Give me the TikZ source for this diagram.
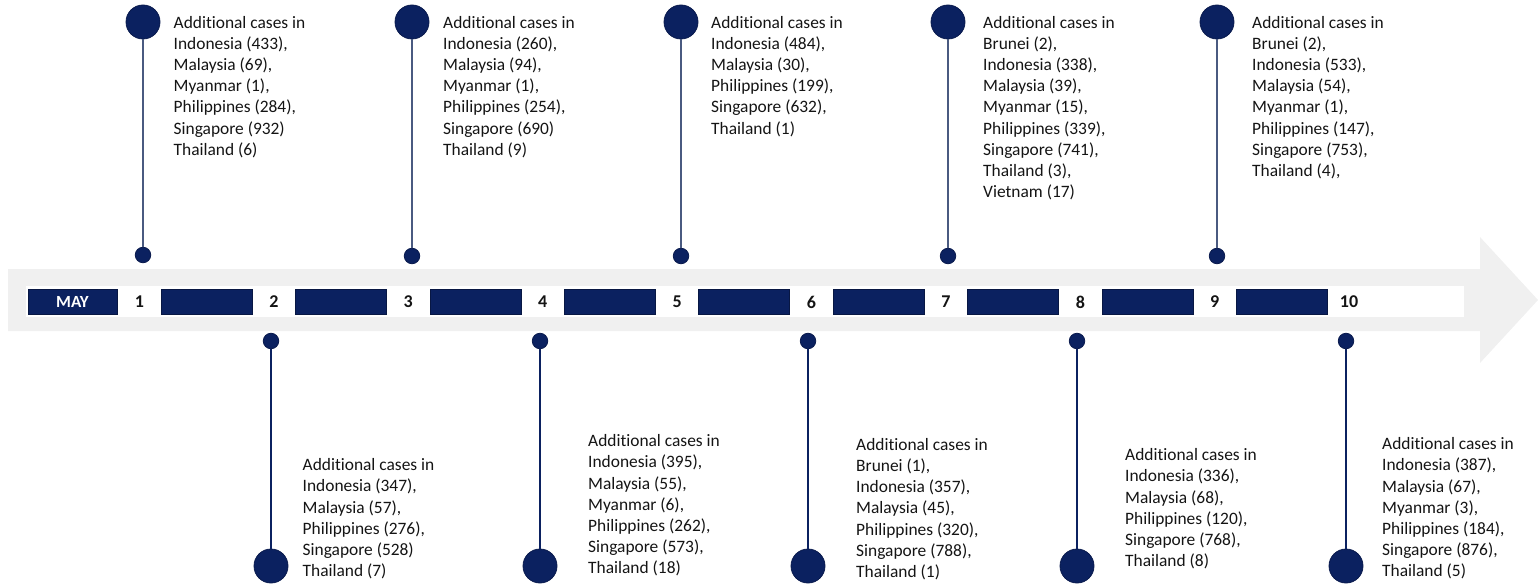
\documentclass[tikz,border=0pt]{standalone}
\usepackage{fontspec}
\setmainfont{Carlito}[Ligatures={NoCommon}]
\definecolor{navy}{HTML}{0B2160}
\definecolor{navyline}{HTML}{4A5A80}
\definecolor{bandgray}{HTML}{F0F0F0}
\definecolor{txt}{HTML}{141414}
\tikzset{
  bigdot/.style={circle,fill=navy,draw=navy!80!black,line width=0.8pt,minimum size=34pt,inner sep=0pt},
  smalldot/.style={circle,fill=navy,draw=navy!80!black,line width=0.8pt,minimum size=15.5pt,inner sep=0pt},
  pinline/.style={draw=navyline,line width=1.8pt},
  pinlinedown/.style={draw=navy,line width=1.8pt},
  info/.style={anchor=north west,inner sep=0pt,align=left,text=txt,font=\fontsize{17.4}{21.2}\selectfont},
  barbox/.style={fill=navy,draw=navy!70!black,line width=0.6pt,minimum width=91pt,minimum height=25pt,inner sep=0pt},
  daynum/.style={inner sep=0pt,text=txt,font=\fontsize{18}{20}\selectfont\bfseries},
}
\newcommand{\fl}{\rule{0pt}{15pt}}
\begin{document}
\begin{tikzpicture}[x=1pt,y=-1pt]
\useasboundingbox (0,0) rectangle (1538,585);
% band arrow
\fill[bandgray] (8,269) -- (1480,269) -- (1480,237) -- (1538,300) -- (1480,363) -- (1480,331) -- (8,331) -- cycle;
% white strip
\fill[white] (26,286) rectangle (1464,317);
% MAY box
\node[barbox,minimum width=89pt,text=white,font=\fontsize{17}{20}\selectfont\bfseries] (may) at (72.5,301.5) {MAY};
% bars
\foreach \i in {1,...,9} {
  \node[barbox] (bar\i) at ({206.5+134.4*(\i-1)},301.5) {};
}
% day numbers
\foreach \k in {1,...,10} {
  \node[daynum] (d\k) at ({139.5+134.4*(\k-1)},302) {\k};
}
% top pins
\node[bigdot] (tb1) at (143,22) {};  \node[smalldot] (ts1) at (143,255) {};
\node[bigdot] (tb3) at (412,22) {};  \node[smalldot] (ts3) at (412,256) {};
\node[bigdot] (tb5) at (681,22) {};  \node[smalldot] (ts5) at (681,256) {};
\node[bigdot] (tb7) at (948,22) {};  \node[smalldot] (ts7) at (948,256) {};
\node[bigdot] (tb9) at (1217,22) {}; \node[smalldot] (ts9) at (1217,256) {};
\foreach \k in {1,3,5,7,9} { \draw[pinline] (tb\k) -- (ts\k); }
% bottom pins
\node[smalldot] (bs2) at (271,341) {};  \node[bigdot] (bb2) at (271,566) {};
\node[smalldot] (bs4) at (540,341) {};  \node[bigdot] (bb4) at (540,566) {};
\node[smalldot] (bs6) at (808,341) {};  \node[bigdot] (bb6) at (808,566) {};
\node[smalldot] (bs8) at (1077,341) {}; \node[bigdot] (bb8) at (1077,566) {};
\node[smalldot] (bs10) at (1346,341) {};\node[bigdot] (bb10) at (1346,566) {};
\foreach \k in {2,4,6,8,10} { \draw[pinlinedown] (bs\k) -- (bb\k); }
% top texts
\node[info] (t1) at (173.5,13) {\fl Additional cases in\\Indonesia (433),\\Malaysia (69),\\Myanmar (1),\\Philippines (284),\\Singapore (932)\\Thailand (6)};
\node[info] (t3) at (443,13) {\fl Additional cases in\\Indonesia (260),\\Malaysia (94),\\Myanmar (1),\\Philippines (254),\\Singapore (690)\\Thailand (9)};
\node[info] (t5) at (711,13) {\fl Additional cases in\\Indonesia (484),\\Malaysia (30),\\Philippines (199),\\Singapore (632),\\Thailand (1)};
\node[info] (t7) at (983,13) {\fl Additional cases in\\Brunei (2),\\Indonesia (338),\\Malaysia (39),\\Myanmar (15),\\Philippines (339),\\Singapore (741),\\Thailand (3),\\Vietnam (17)};
\node[info] (t9) at (1252,13) {\fl Additional cases in\\Brunei (2),\\Indonesia (533),\\Malaysia (54),\\Myanmar (1),\\Philippines (147),\\Singapore (753),\\Thailand (4),};
% bottom texts
\node[info] (t2) at (302.5,455.5) {\fl Additional cases in\\Indonesia (347),\\Malaysia (57),\\Philippines (276),\\Singapore (528)\\Thailand (7)};
\node[info] (t4) at (588,431.5) {\fl Additional cases in\\Indonesia (395),\\Malaysia (55),\\Myanmar (6),\\Philippines (262),\\Singapore (573),\\Thailand (18)};
\node[info] (t6) at (856,435) {\fl Additional cases in\\Brunei (1),\\Indonesia (357),\\Malaysia (45),\\Philippines (320),\\Singapore (788),\\Thailand (1)};
\node[info] (t8) at (1125,445.5) {\fl Additional cases in\\Indonesia (336),\\Malaysia (68),\\Philippines (120),\\Singapore (768),\\Thailand (8)};
\node[info] (t10) at (1382,434.5) {\fl Additional cases in\\Indonesia (387),\\Malaysia (67),\\Myanmar (3),\\Philippines (184),\\Singapore (876),\\Thailand (5)};
\end{tikzpicture}
\end{document}
